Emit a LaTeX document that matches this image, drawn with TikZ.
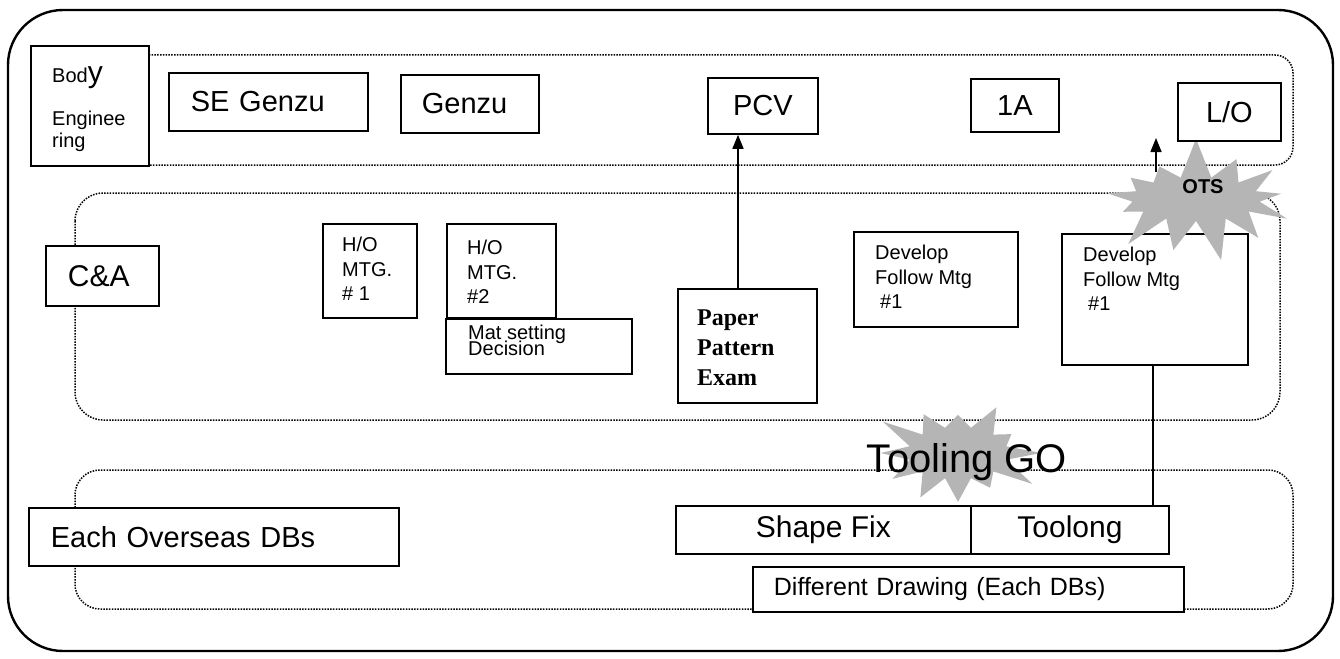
\documentclass[tikz,border=0pt]{standalone}
\usepackage{fontspec}
\setmainfont{Liberation Sans}
\newfontfamily\timesfont{Liberation Serif}
\usetikzlibrary{shapes.symbols,arrows.meta}
\begin{document}
\begin{tikzpicture}[x=1pt,y=-1pt,
  box/.style={draw=black, line width=1.8pt, fill=white, inner sep=0pt, anchor=north west},
  strip/.style={draw=black, line width=1.5pt, dash pattern=on 1.5pt off 1.3pt},
  fbig/.style={font=\fontsize{29}{34}\selectfont},
  fhuge/.style={font=\fontsize{30}{34}\selectfont},
  fmid/.style={font=\fontsize{20}{24.5}\selectfont},
  txt/.style={inner sep=0pt, align=left, anchor=north west},
  lbl/.style={inner sep=0pt, anchor=base west},
  conn/.style={line width=1.5pt},
  burst/.style={starburst, fill=gray!58, draw=none, inner sep=0pt},
  myarrow/.style={-{Triangle[width=11pt,length=14pt]}}
]
\useasboundingbox (0,0) rectangle (1340,658);
\fill[white] (0,0) rectangle (1340,658);

% outer frame
\draw[line width=2.4pt, rounded corners=55pt] (8,10) rectangle (1333,651);

% dotted strips
\draw[strip, rounded corners=18pt] (100,55) rectangle (1293,165);
\draw[strip, rounded corners=28pt] (75,193) rectangle (1280,420);
\draw[strip, rounded corners=25pt] (75,470) rectangle (1293,609);

% Tooling GO burst
\node[burst, minimum width=176pt, minimum height=128pt, starburst points=12,
      starburst point height=38pt, random starburst=3] (tgstar) at (958,453) {};

% right develop box (under OTS burst)
\node[box, minimum width=186pt, minimum height=131pt] (dev2) at (1061,233) {};

% OTS burst
\node[burst, minimum width=212pt, minimum height=128pt, starburst points=13,
      starburst point height=42pt, random starburst=7] (otsstar) at (1196,199) {};

% top row
\node[box, minimum width=118pt, minimum height=120pt] (body) at (30,45) {};
\node[lbl, font=\fontsize{20}{22}\selectfont] (b1) at (52,83) {Bod{\fontsize{30}{30}\selectfont y}};
\node[lbl, font=\fontsize{20}{22}\selectfont] (b2) at (52,125) {Enginee};
\node[lbl, font=\fontsize{20}{22}\selectfont] (b3) at (52,147) {ring};

\node[box, fbig, minimum width=199pt, minimum height=58pt, text width=155pt, align=left] (seg) at (168,72) {SE Genzu};
\node[box, fbig, minimum width=138pt, minimum height=58pt, text width=96pt, align=left] (genzu) at (400,74) {Genzu};
\node[box, fbig, minimum width=110pt, minimum height=56pt] (pcv) at (707,77) {PCV};
\node[box, fbig, minimum width=88pt, minimum height=53pt] (onea) at (970,78) {1A};
\node[box, fbig, minimum width=103pt, minimum height=58pt] (lo) at (1177,82) {L/O};

% middle row
\node[box, fhuge, minimum width=113pt, minimum height=60pt, text width=69pt, align=left] (ca) at (45,245) {C\&A};

\node[box, minimum width=94pt, minimum height=94pt] (ho1) at (322,223) {};
\node[txt, fmid] (ho1t) at (342,237) {H/O\\MTG.\\\# 1};

\node[box, minimum width=109pt, minimum height=94pt] (ho2) at (446,223) {};
\node[txt, fmid] (ho2t) at (467,240) {H/O\\MTG.\\\#2};

\node[box, minimum width=186pt, minimum height=55pt] (mat) at (445,318) {};
\node[lbl, font=\fontsize{20}{20}\selectfont] (matt1) at (468,339) {Mat setting};
\node[lbl, font=\fontsize{20}{20}\selectfont] (matt2) at (468,355) {Decision};

\node[box, minimum width=139pt, minimum height=114pt] (paper) at (677,288) {};
\node[txt, font=\timesfont\bfseries\fontsize{24}{30}\selectfont] (papert) at (697,310) {Paper\\Pattern\\Exam};

\node[box, minimum width=164pt, minimum height=95pt] (dev1) at (853,231) {};
\node[txt, fmid] (dev1t) at (875,245) {Develop\\Follow Mtg\\\hspace*{5pt}\#1};

\node[txt, fmid] (dev2t) at (1083,247) {Develop\\Follow Mtg\\\hspace*{5pt}\#1};

% bottom row
\node[box, fbig, minimum width=370pt, minimum height=58pt, text width=326pt, align=left] (each) at (28,507) {Each Overseas DBs};
\node[box, fhuge, minimum width=295pt, minimum height=48pt] (shape) at (675,505) {Shape Fix};
\node[box, fhuge, minimum width=198pt, minimum height=48pt] (toolong) at (970,505) {Toolong};
\node[box, font=\fontsize{25}{28}\selectfont, minimum width=431pt, minimum height=45pt, text width=389pt, align=left] (diff) at (752,566) {Different Drawing (Each DBs)};

% connectors
\coordinate (ax) at (738,0);
\draw[conn, myarrow] (ax |- paper.north) -- (ax |- pcv.south);
\coordinate (lx) at (1153,0);
\draw[conn] (lx |- dev2.south) -- (lx |- toolong.north);
\coordinate (o1) at (1156,172);
\coordinate (o2) at (1156,138);
\draw[conn, myarrow] (o1) -- (o2);

% burst labels
\node[inner sep=0pt, font=\bfseries\fontsize{20}{20}\selectfont] (ots) at (1203,187) {OTS};
\node[inner sep=0pt, anchor=base, font=\fontsize{40}{40}\selectfont] (tg) at (967,472) {Tooling GO};
\end{tikzpicture}
\end{document}
